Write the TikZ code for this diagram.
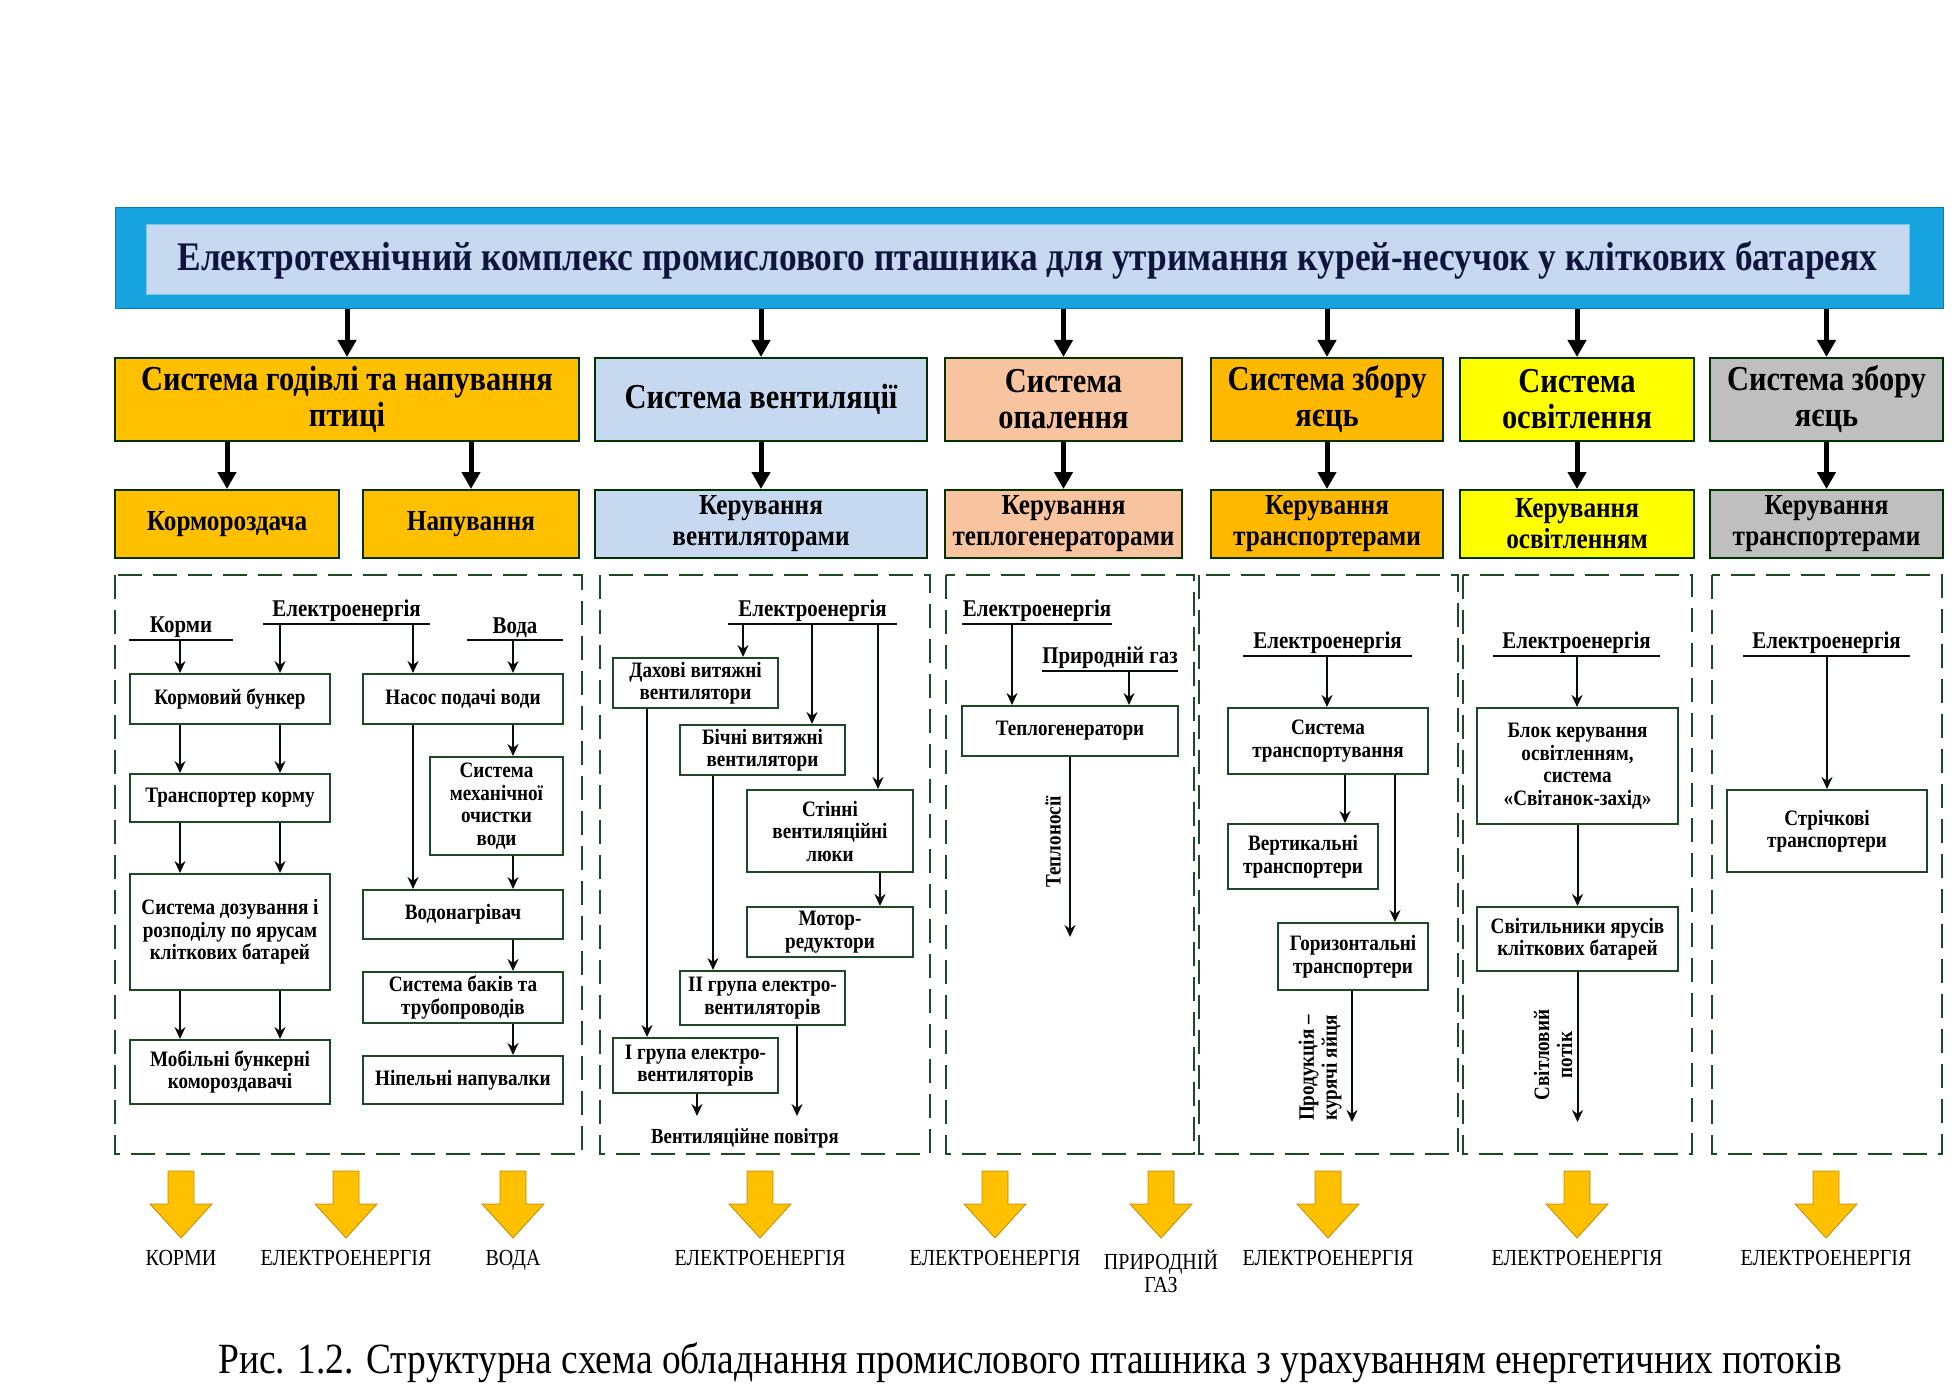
\documentclass[tikz,border=0pt]{standalone}
\usepackage{fontspec}
\setmainfont{Liberation Serif}[FakeStretch=0.87]
\usetikzlibrary{arrows.meta,calc}
\definecolor{barblue}{RGB}{22,163,222}
\definecolor{barblue2}{RGB}{10,120,190}
\definecolor{titlefill}{RGB}{198,217,241}
\definecolor{orng}{RGB}{255,192,0}
\definecolor{orng2}{RGB}{255,184,0}
\definecolor{ltblue}{RGB}{198,217,241}
\definecolor{peach}{RGB}{248,196,160}
\definecolor{yel}{RGB}{255,255,0}
\definecolor{gry}{RGB}{191,191,191}
\definecolor{dgreen}{RGB}{30,72,38}
\definecolor{navy}{RGB}{15,20,60}
\definecolor{flowfill}{RGB}{255,192,0}
\definecolor{flowline}{RGB}{190,140,0}
\newcommand\bx[7]{\node[#6,minimum width={(#4)-(#2)},minimum height={(#5)-(#3)}] (#1) at ({((#2)+(#4))/2},{((#3)+(#5))/2}) {#7};}
\newcommand\link[4]{\coordinate (#1) at ($(#2.south)+(#3,0)$); \draw[arr] (#1) -- (#1 |- #4.north);}
\newcommand\tap[4]{\coordinate (#1) at (#2,#3); \draw[arr] (#1) -- (#1 |- #4.north);}
\newcommand\outarr[4]{\coordinate (#1) at ($(#2.south)+(#3,0)$); \coordinate (#1e) at ($(#1)+(0,#4)$); \draw[arr] (#1) -- (#1e);}
\newcommand\bus[5]{\coordinate (#1a) at (#2,#4); \coordinate (#1b) at (#3,#4); \draw[ln] (#1a) -- (#1b); \node[lbl] (#1t) at ({((#2)+(#3))/2},{(#4)-2}) {#5};}
\newcommand\flowarr[2]{\fill[flowfill,draw=flowline,line width=0.8pt] ({#2-13},1171) -- ({#2+13},1171) -- ({#2+13},1204) -- ({#2+31},1204) -- (#2,1238) -- ({#2-31},1204) -- ({#2-13},1204) -- cycle; \coordinate (#1) at (#2,1238);}
\tikzset{
 sys/.style={draw=black!80!green,line width=2pt,align=center,inner sep=2pt,font=\fontsize{35}{36}\selectfont\bfseries},
 ctl/.style={draw=black!80!green,line width=2pt,align=center,inner sep=1pt,font=\fontsize{29}{31}\selectfont\bfseries},
 gbox/.style={draw=dgreen,line width=2pt,fill=white,align=center,inner sep=1pt,font=\fontsize{22}{22.5}\selectfont\bfseries},
 grp/.style={draw=dgreen,line width=1.8pt,dash pattern=on 24pt off 11pt},
 lbl/.style={anchor=south,inner sep=0pt,font=\fontsize{24}{26}\selectfont\bfseries},
 ln/.style={draw=black!80!dgreen,line width=2pt},
 arr/.style={ln,-{Stealth[length=12pt,width=11pt]}},
 bigarr/.style={line width=5pt,black,-{Triangle[length=17pt,width=18pt]}},
 rot/.style={rotate=90,align=center,inner sep=0pt,font=\fontsize{22}{23}\selectfont\bfseries},
 flbl/.style={anchor=north,align=center,inner sep=0pt,font=\fontsize{23}{25}\selectfont},
}
\begin{document}
\begin{tikzpicture}[x=1pt,y=-1pt]
\useasboundingbox (0,0) rectangle (1957,1396);
\fill[white] (0,0) rectangle (1957,1396);
% title bar
\node[fill=barblue,draw=barblue2,line width=1pt,minimum width=1828,minimum height=101,inner sep=0pt] (bar) at (1029,258.5) {};
\node[fill=titlefill,draw=barblue!60,line width=1pt,minimum width=1763,minimum height=70,inner sep=0pt,text=navy,font=\fontsize{40.6}{44}\selectfont\bfseries] (title) at (1027.5,260) {Електротехнічний комплекс промислового пташника для утримання курей-несучок у кліткових батареях};
% level 2
\bx{s1}{115}{358}{579}{441}{sys,fill=orng}{Система годівлі та напування\\птиці}
\bx{s2}{595}{358}{927}{441}{sys,fill=ltblue}{Система вентиляції}
\bx{s3}{945}{358}{1182}{441}{sys,fill=peach}{Система\\опалення}
\bx{s4}{1211}{358}{1443}{441}{sys,fill=orng2}{Система збору\\яєць}
\bx{s5}{1460}{358}{1694}{441}{sys,fill=yel}{Система\\освітлення}
\bx{s6}{1710}{358}{1943}{441}{sys,fill=gry}{Система збору\\яєць}
% level 3
\bx{k1}{115}{490}{339}{558}{ctl,fill=orng}{Кормороздача}
\bx{k2}{363}{490}{579}{558}{ctl,fill=orng}{Напування}
\bx{k3}{595}{490}{927}{558}{ctl,fill=ltblue}{Керування\\вентиляторами}
\bx{k4}{945}{490}{1182}{558}{ctl,fill=peach}{Керування\\теплогенераторами}
\bx{k5}{1211}{490}{1443}{558}{ctl,fill=orng2}{Керування\\транспортерами}
\bx{k6}{1460}{490}{1694}{558}{ctl,fill=yel}{Керування\\освітленням}
\bx{k7}{1710}{490}{1943}{558}{ctl,fill=gry}{Керування\\транспортерами}
\foreach \s in {s1,s2,s3,s4,s5,s6} {\draw[bigarr] (bar.south -| \s.north) -- (\s.north);}
\draw[bigarr] (s1.south -| k1.north) -- (k1.north);
\draw[bigarr] (s1.south -| k2.north) -- (k2.north);
\draw[bigarr] (s2.south -| k3.north) -- (k3.north);
\draw[bigarr] (s3.south -| k4.north) -- (k4.north);
\draw[bigarr] (s4.south -| k5.north) -- (k5.north);
\draw[bigarr] (s5.south -| k6.north) -- (k6.north);
\draw[bigarr] (s6.south -| k7.north) -- (k7.north);
% dashed groups
\draw[grp] (115,575) rectangle (582,1154);
\draw[grp] (600,575) rectangle (930,1154);
\draw[grp] (946,575) rectangle (1194,1154);
\draw[grp] (1199,575) rectangle (1458,1154);
\draw[grp] (1463,575) rectangle (1692,1154);
\draw[grp] (1712,575) rectangle (1942,1154);
% ---- group 1
\bus{bk}{129}{233}{640}{Корми}
\bus{be1}{263}{430}{624}{Електроенергія}
\bus{bw}{467}{563}{640}{Вода}
\bx{kb}{130}{674}{330}{724}{gbox}{Кормовий бункер}
\bx{tk}{130}{774}{330}{822}{gbox}{Транспортер корму}
\bx{sd}{130}{874}{330}{990}{gbox}{Система дозування і\\розподілу по ярусам\\кліткових батарей}
\bx{mb}{130}{1040}{330}{1104}{gbox}{Мобільні бункерні\\комороздавачі}
\bx{np}{363}{674}{563}{724}{gbox}{Насос подачі води}
\bx{mo}{430}{757}{563}{855}{gbox}{Система\\механічної\\очистки\\води}
\bx{vn}{363}{890}{563}{939}{gbox}{Водонагрівач}
\bx{bt}{363}{972}{563}{1023}{gbox}{Система баків та\\трубопроводів}
\bx{nn}{363}{1056}{563}{1104}{gbox}{Ніпельні напувалки}
\tap{t1}{180}{640}{kb}
\tap{t2}{280}{624}{kb}
\tap{t3}{413}{624}{np}
\tap{t4}{513}{640}{np}
\link{l1}{kb}{-50}{tk}
\link{l2}{kb}{50}{tk}
\link{l3}{tk}{-50}{sd}
\link{l4}{tk}{50}{sd}
\link{l5}{sd}{-50}{mb}
\link{l6}{sd}{50}{mb}
\link{l7}{np}{50}{mo}
\link{l8}{np}{-50}{vn}
\link{l9}{mo}{16.5}{vn}
\link{l10}{vn}{50}{bt}
\link{l11}{bt}{50}{nn}
% ---- group 2
\bus{be2}{728}{897}{624}{Електроенергія}
\bx{dv}{613}{658}{778}{708}{gbox}{Дахові витяжні\\вентилятори}
\bx{bv}{680}{725}{845}{775}{gbox}{Бічні витяжні\\вентилятори}
\bx{sl}{747}{790}{913}{872}{gbox}{Стінні\\вентиляційні\\люки}
\bx{mr}{747}{907}{913}{957}{gbox}{Мотор-\\редуктори}
\bx{gb2}{680}{971}{845}{1025}{gbox}{II група електро-\\вентиляторів}
\bx{gb1}{613}{1038}{778}{1093}{gbox}{I група електро-\\вентиляторів}
\tap{t5}{743}{624}{dv}
\tap{t6}{812}{624}{bv}
\tap{t7}{878}{624}{sl}
\link{l12}{dv}{-48.5}{gb1}
\link{l13}{bv}{-49.5}{gb2}
\link{l14}{sl}{50}{mr}
\outarr{o1}{gb1}{1.5}{22}
\outarr{o2}{gb2}{34.5}{90}
\node[inner sep=0pt,font=\fontsize{21.5}{23}\selectfont\bfseries] (vp) at (745,1138) {Вентиляційне повітря};
% ---- group 3
\bus{be3}{962}{1112}{624}{Електроенергія}
\bus{bg}{1042}{1178}{671}{Природній газ}
\bx{tg}{962}{706}{1178}{756}{gbox}{Теплогенератори}
\tap{t8}{1012}{624}{tg}
\tap{t9}{1129}{671}{tg}
\outarr{o3}{tg}{0}{180}
\node[rot] (tn) at (1053,842) {Теплоносії};
% ---- group 4
\bus{be4}{1243}{1412}{656}{Електроенергія}
\bx{st}{1228}{708}{1428}{774}{gbox}{Система\\транспортування}
\bx{vt}{1228}{824}{1378}{889}{gbox}{Вертикальні\\транспортери}
\bx{ht}{1278}{923}{1428}{990}{gbox}{Горизонтальні\\транспортери}
\tap{t10}{1327}{656}{st}
\link{l15}{st}{17}{vt}
\link{l16}{st}{67}{ht}
\outarr{o4}{ht}{-1}{131}
\node[rot] (pk) at (1320,1068) {Продукція –\\курячі яйця};
% ---- group 5
\bus{be5}{1493}{1660}{656}{Електроенергія}
\bx{bkv}{1477}{708}{1678}{824}{gbox}{Блок керування\\освітленням,\\система\\«Світанок-захід»}
\bx{sv}{1477}{907}{1678}{971}{gbox}{Світильники ярусів\\кліткових батарей}
\tap{t11}{1577}{656}{bkv}
\link{l17}{bkv}{0}{sv}
\outarr{o5}{sv}{0}{150}
\node[rot] (sp) at (1553,1055) {Світловий\\потік};
% ---- group 6
\bus{be6}{1743}{1910}{656}{Електроенергія}
\bx{sc}{1727}{790}{1927}{872}{gbox}{Стрічкові\\транспортери}
\tap{t12}{1827}{656}{sc}
% ---- energy flows
\flowarr{f1}{181}
\flowarr{f2}{346}
\flowarr{f3}{513}
\flowarr{f4}{760}
\flowarr{f5}{995}
\flowarr{f6}{1161}
\flowarr{f7}{1328}
\flowarr{f8}{1577}
\flowarr{f9}{1826}
\node[flbl] (fl1) at ($(f1)+(0,12)$) {КОРМИ};
\node[flbl] (fl2) at ($(f2)+(0,12)$) {ЕЛЕКТРОЕНЕРГІЯ};
\node[flbl] (fl3) at ($(f3)+(0,12)$) {ВОДА};
\node[flbl] (fl4) at ($(f4)+(0,12)$) {ЕЛЕКТРОЕНЕРГІЯ};
\node[flbl] (fl5) at ($(f5)+(0,12)$) {ЕЛЕКТРОЕНЕРГІЯ};
\node[flbl,font=\fontsize{23}{23}\selectfont] (fl6) at ($(f6)+(0,12)$) {ПРИРОДНІЙ\\ГАЗ};
\node[flbl] (fl7) at ($(f7)+(0,12)$) {ЕЛЕКТРОЕНЕРГІЯ};
\node[flbl] (fl8) at ($(f8)+(0,12)$) {ЕЛЕКТРОЕНЕРГІЯ};
\node[flbl] (fl9) at ($(f9)+(0,12)$) {ЕЛЕКТРОЕНЕРГІЯ};
% caption
\node[inner sep=0pt,font=\fontsize{43.1}{48}\selectfont] (cap) at (1030,1363) {Рис. 1.2. Структурна схема обладнання промислового пташника з урахуванням енергетичних потоків};
\end{tikzpicture}
\end{document}
